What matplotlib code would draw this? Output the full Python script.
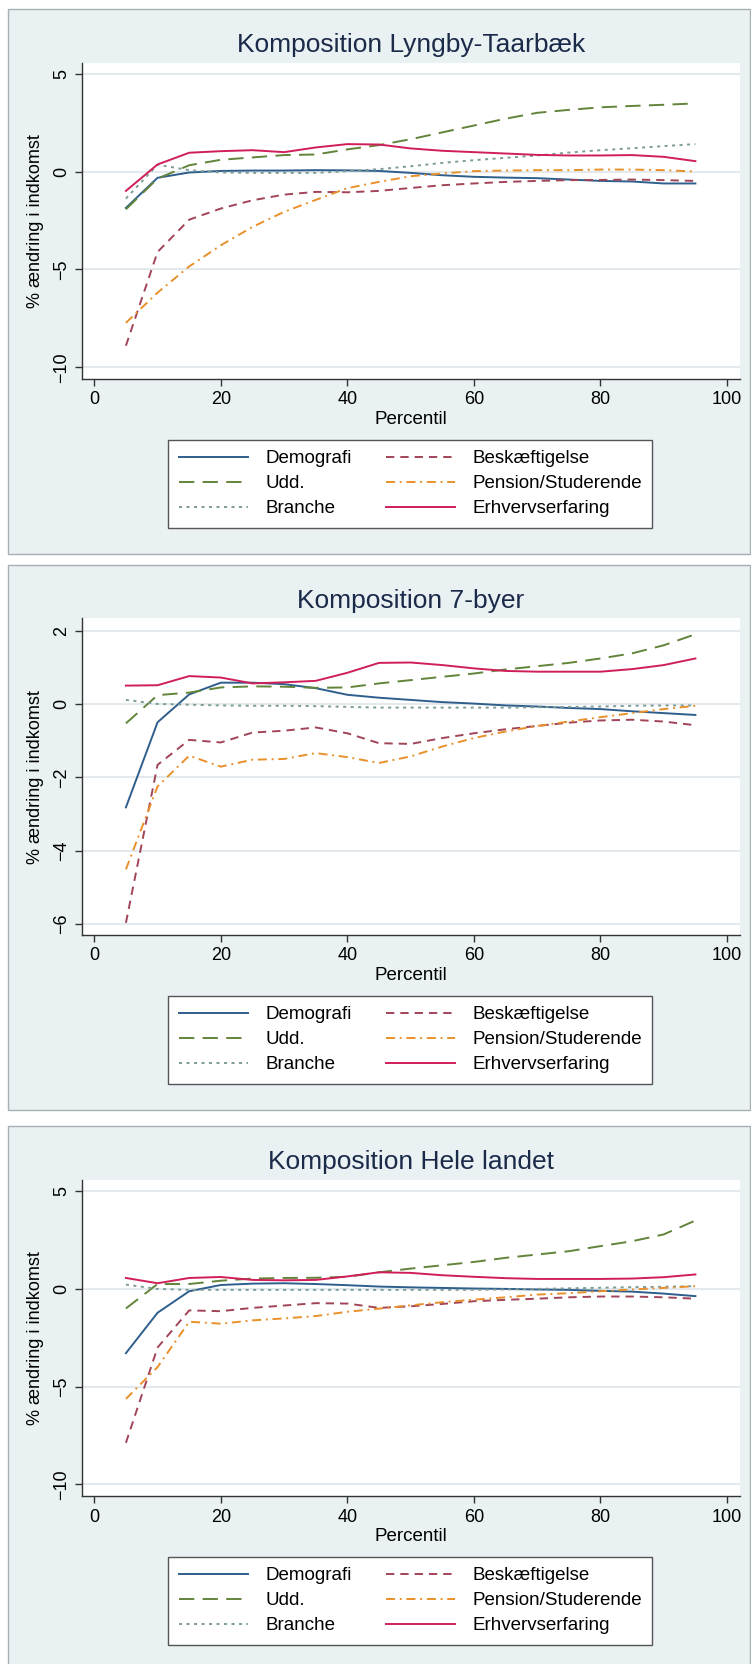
import matplotlib
matplotlib.use('Agg')
import matplotlib.pyplot as plt
from matplotlib.patches import Rectangle

plt.rcParams['font.family'] = ['Liberation Sans', 'DejaVu Sans']
plt.rcParams['lines.scale_dashes'] = False

# percentiles on the x axis
percentil = [5, 10, 15, 20, 25, 30, 35, 40, 45, 50, 55, 60, 65, 70, 75, 80, 85, 90, 95]

serier = ['Demografi', 'Udd.', 'Branche', 'Beskæftigelse', 'Pension/Studerende', 'Erhvervserfaring']

# Lyngby-Taarbaek
demo_lyngby = [-1.86, -0.32, -0.05, 0.03, 0.05, 0.05, 0.07, 0.06, 0.03, -0.07, -0.19, -0.27, -0.31, -0.34, -0.41, -0.48, -0.51, -0.61, -0.61]
udd_lyngby = [-1.93, -0.36, 0.32, 0.60, 0.72, 0.84, 0.87, 1.13, 1.35, 1.65, 2.00, 2.35, 2.70, 3.00, 3.15, 3.28, 3.35, 3.41, 3.48]
branche_lyngby = [-1.38, 0.35, 0.07, -0.05, -0.07, -0.07, -0.07, 0.02, 0.12, 0.27, 0.44, 0.58, 0.70, 0.82, 0.97, 1.09, 1.19, 1.30, 1.40]
besk_lyngby = [-8.90, -4.11, -2.46, -1.89, -1.47, -1.18, -1.04, -1.06, -0.99, -0.84, -0.70, -0.61, -0.53, -0.48, -0.44, -0.43, -0.41, -0.44, -0.48]
pension_lyngby = [-7.73, -6.19, -4.85, -3.77, -2.83, -2.06, -1.45, -0.85, -0.53, -0.24, -0.10, 0.02, 0.05, 0.07, 0.07, 0.10, 0.10, 0.07, 0.00]
erhverv_lyngby = [-0.99, 0.36, 0.96, 1.04, 1.09, 0.99, 1.23, 1.40, 1.38, 1.18, 1.06, 0.99, 0.92, 0.85, 0.82, 0.82, 0.84, 0.75, 0.53]

# 7-byer
demo_7byer = [-2.82, -0.50, 0.26, 0.58, 0.58, 0.54, 0.43, 0.25, 0.17, 0.11, 0.05, 0.01, -0.04, -0.07, -0.11, -0.14, -0.20, -0.25, -0.30]
udd_7byer = [-0.53, 0.24, 0.31, 0.45, 0.48, 0.47, 0.44, 0.45, 0.56, 0.65, 0.74, 0.83, 0.94, 1.03, 1.12, 1.24, 1.38, 1.60, 1.90]
branche_7byer = [0.11, 0.00, -0.02, -0.04, -0.05, -0.05, -0.06, -0.08, -0.10, -0.10, -0.10, -0.10, -0.10, -0.09, -0.08, -0.07, -0.05, -0.04, -0.04]
besk_7byer = [-5.97, -1.66, -0.98, -1.05, -0.78, -0.73, -0.64, -0.80, -1.07, -1.09, -0.93, -0.80, -0.69, -0.60, -0.51, -0.45, -0.43, -0.48, -0.58]
pension_7byer = [-4.51, -2.25, -1.41, -1.71, -1.52, -1.50, -1.34, -1.45, -1.61, -1.43, -1.16, -0.93, -0.75, -0.60, -0.48, -0.36, -0.25, -0.14, -0.05]
erhverv_7byer = [0.50, 0.51, 0.76, 0.72, 0.56, 0.59, 0.63, 0.85, 1.12, 1.13, 1.06, 0.97, 0.90, 0.88, 0.88, 0.88, 0.95, 1.06, 1.24]

# hele landet
demo_land = [-3.29, -1.22, -0.12, 0.20, 0.27, 0.29, 0.25, 0.19, 0.12, 0.08, 0.05, 0.02, 0.00, -0.03, -0.05, -0.10, -0.14, -0.24, -0.37]
udd_land = [-1.00, 0.25, 0.25, 0.42, 0.53, 0.56, 0.57, 0.62, 0.85, 1.04, 1.21, 1.38, 1.59, 1.76, 1.93, 2.19, 2.44, 2.79, 3.50]
branche_land = [0.22, 0.00, -0.05, -0.05, -0.05, -0.05, -0.05, -0.05, -0.05, -0.05, -0.05, -0.05, -0.03, 0.00, 0.03, 0.06, 0.09, 0.11, 0.14]
besk_land = [-7.88, -3.00, -1.10, -1.14, -0.97, -0.85, -0.73, -0.75, -0.97, -0.89, -0.77, -0.63, -0.56, -0.50, -0.43, -0.39, -0.39, -0.43, -0.50]
pension_land = [-5.63, -4.00, -1.68, -1.78, -1.61, -1.51, -1.39, -1.17, -1.01, -0.84, -0.68, -0.55, -0.43, -0.29, -0.22, -0.12, -0.03, 0.05, 0.14]
erhverv_land = [0.56, 0.29, 0.56, 0.61, 0.46, 0.44, 0.46, 0.64, 0.85, 0.82, 0.70, 0.62, 0.55, 0.51, 0.51, 0.51, 0.53, 0.60, 0.74]

titler = ['Komposition Lyngby-Taarbæk', 'Komposition 7-byer', 'Komposition Hele landet']
yticks = [[5, 0, -5, -10], [2, 0, -2, -4, -6], [5, 0, -5, -10]]
ylims = [(-10.6, 5.57), (-6.3, 2.33), (-10.6, 5.6)]

data = [
    [demo_lyngby, udd_lyngby, branche_lyngby, besk_lyngby, pension_lyngby, erhverv_lyngby],
    [demo_7byer, udd_7byer, branche_7byer, besk_7byer, pension_7byer, erhverv_7byer],
    [demo_land, udd_land, branche_land, besk_land, pension_land, erhverv_land],
]

# stata s2color-ish look
farver = ['#2E5E8C', '#62843A', '#7E9C96', '#A24457', '#E8902A', '#D01E5A']
stil = ['-', (0, (11, 6)), (0, (2.2, 3.2)), (0, (6, 4.3)), (0, (6.5, 3.4, 1.4, 3.4)), '-']

W, H = 751, 1664
def fx(px):
    return px / W
def fy(py):
    return 1 - py / H

fig = plt.figure(figsize=(W / 100, H / 100), dpi=100)
fig.patch.set_facecolor('white')

toppe = [9, 565, 1126]

for i in range(3):
    top = toppe[i]
    # panel background with thin border
    fig.add_artist(Rectangle((fx(8), fy(top + 545)), fx(750) - fx(8), 545 / H,
                             transform=fig.transFigure, facecolor='#E9F1F3',
                             edgecolor='#A7AFB3', lw=1, zorder=-1))

    ax = fig.add_axes([fx(82), fy(top + 370), fx(740) - fx(82), (370 - 53.5) / H])
    ax.set_facecolor('white')

    for j in range(6):
        ax.plot(percentil, data[i][j], color=farver[j], linestyle=stil[j], lw=1.4, label=serier[j])

    ax.set_xlim(-1.94, 102.05)
    ax.set_ylim(*ylims[i])
    ax.set_xticks([0, 20, 40, 60, 80, 100])
    ax.set_yticks(yticks[i])
    ax.yaxis.grid(True, color='#E3E9EC', lw=1.5)
    ax.set_axisbelow(True)

    for s in ['top', 'right']:
        ax.spines[s].set_visible(False)
    for s in ['left', 'bottom']:
        ax.spines[s].set_color('#333333')
        ax.spines[s].set_linewidth(1)

    ax.tick_params(axis='both', labelsize=13, length=5, width=1, color='#333333', pad=4)
    ax.tick_params(axis='y', labelrotation=90, pad=3.6)
    for lab in ax.get_yticklabels():
        lab.set_verticalalignment('center')

    ax.set_xlabel('Percentil', fontsize=13.5)
    ax.xaxis.set_label_coords(0.5, -0.1)
    ax.set_ylabel('% ændring i indkomst', fontsize=13)
    ax.yaxis.set_label_coords(-0.058, 0.5)

    fig.text(fx(411), fy(top + 35.6), titler[i], ha='center', va='center',
             fontsize=19, color='#1B2A49')

    leg = ax.legend(ncol=2, loc='upper center', bbox_to_anchor=(fx(410.3), fy(top + 431)),
                    bbox_transform=fig.transFigure, fontsize=13.5, frameon=True,
                    fancybox=False, framealpha=1, edgecolor='#555555',
                    handlelength=3.7, handletextpad=0.93, columnspacing=1.8,
                    labelspacing=0.42, borderpad=0.55, borderaxespad=0)
    leg.get_frame().set_linewidth(1)

plt.savefig('out.png', dpi=100)
